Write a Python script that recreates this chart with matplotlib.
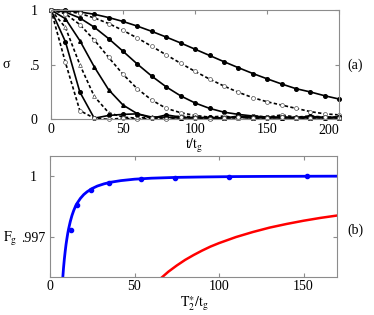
import matplotlib
matplotlib.use("Agg")
import matplotlib.pyplot as plt

plt.rcParams["font.family"] = ["Liberation Serif", "DejaVu Serif"]
plt.rcParams["mathtext.fontset"] = "stix"
plt.rcParams["font.size"] = 10

# panel (a): fidelity decay sigma vs t/t_g, sampled every 10 t_g
t = [0, 10, 20, 30, 40, 50, 60, 70, 80, 90, 100,
     110, 120, 130, 140, 150, 160, 170, 180, 190, 200]

sig_1 = [1, 0.52, 0.08, 0.01, 0.00, 0.01, 0.00, 0.01, 0.00, 0.02, 0.01,
         0.00, 0.01, 0.02, 0.01, 0.01, 0.02, 0.01, 0.01, 0.02, 0.01]
sig_2 = [1, 0.71, 0.25, 0.01, 0.035, 0.045, 0.05, 0.01, 0.04, 0.02, 0.01,
         0.02, 0.01, 0.03, 0.02, 0.01, 0.02, 0.01, 0.03, 0.01, 0.02]
sig_3 = [1, 0.84, 0.50, 0.21, 0.06, 0.02, 0.01, 0.02, 0.01, 0.03, 0.02,
         0.01, 0.02, 0.01, 0.03, 0.02, 0.02, 0.01, 0.02, 0.01, 0.02]
sig_4 = [1, 0.92, 0.72, 0.48, 0.27, 0.13, 0.05, 0.02, 0.02, 0.01, 0.02,
         0.01, 0.01, 0.02, 0.01, 0.02, 0.01, 0.02, 0.01, 0.02, 0.01]
sig_5 = [1, 0.965, 0.867, 0.726, 0.566, 0.411, 0.278, 0.175, 0.10, 0.06, 0.035,
         0.02, 0.03, 0.01, 0.03, 0.02, 0.04, 0.02, 0.03, 0.02, 0.02]
sig_6 = [1, 0.981, 0.927, 0.843, 0.738, 0.622, 0.504, 0.394, 0.296, 0.214, 0.149,
         0.10, 0.065, 0.045, 0.03, 0.02, 0.02, 0.015, 0.02, 0.015, 0.02]
sig_7 = [1, 0.992, 0.968, 0.928, 0.876, 0.813, 0.743, 0.667, 0.589, 0.512, 0.438,
         0.368, 0.304, 0.247, 0.198, 0.16, 0.13, 0.10, 0.07, 0.05, 0.04]
sig_8 = [1, 0.996, 0.982, 0.961, 0.931, 0.895, 0.852, 0.804, 0.752, 0.698, 0.641,
         0.584, 0.527, 0.472, 0.419, 0.37, 0.323, 0.28, 0.25, 0.215, 0.185]

# panel (b): gate fidelity vs T2*/t_g
t2_pts = [12.3, 16.2, 24.5, 34.8, 53.9, 73.7, 106, 152]
fg_pts = [0.99732, 0.99859, 0.99933, 0.99965, 0.99985, 0.99992, 0.99998, 1.0]

t2_blue = [7.5, 8.0, 8.5, 9.0, 9.5, 10.0, 10.5, 11, 12, 13, 14, 15, 16, 18,
           20, 22, 25, 28, 32, 36, 42, 50, 60, 75, 90, 110, 130, 150, 170]
fg_blue = [0.99490, 0.99545, 0.99590, 0.99628, 0.99662, 0.99690, 0.99716,
           0.99738, 0.99775, 0.99805, 0.99829, 0.99849, 0.99865, 0.99890,
           0.99909, 0.99923, 0.99939, 0.99951, 0.99962, 0.99970, 0.99978,
           0.99985, 0.99990, 0.99994, 0.99996, 0.99998, 0.99999, 0.999995, 1.0]

t2_red = [65.5, 70, 75, 80, 85, 90, 95, 100, 110, 120, 130, 140, 150, 160, 170]
fg_red = [0.99493, 0.99526, 0.99557, 0.99585, 0.99609, 0.99631, 0.99651,
          0.99668, 0.99698, 0.99723, 0.99745, 0.99763, 0.99779, 0.99793,
          0.99805]

W, H = 374, 315
fig = plt.figure(figsize=(W / 100, H / 100), dpi=100)
frame = "#8c8c8c"


def style(ax):
    for s in ax.spines.values():
        s.set_color(frame)
        s.set_linewidth(0.8)
    ax.tick_params(direction="in", length=3, color=frame, top=True, right=True,
                   labelsize=10)
    ax.tick_params(axis="y", pad=12)
    for lab in ax.get_yticklabels():
        lab.set_horizontalalignment("center")


ax_a = fig.add_axes([51 / W, 1 - 119.3 / H, 288.3 / W, 109.3 / H])
solid = dict(color="black", lw=1.2, ls="-", clip_on=False)
dotted = dict(color="black", lw=1.2, ls=(0, (2, 1.4)), clip_on=False)
filled = dict(ms=2.6, mfc="black", mec="black")
hollow = dict(ms=2.8, mfc="white", mec="#555555", mew=0.5)

curves = [
    (sig_8, solid, "o", filled),
    (sig_7, dotted, "o", hollow),
    (sig_6, solid, "o", filled),
    (sig_5, dotted, "o", hollow),
    (sig_4, solid, "^", filled),
    (sig_3, dotted, "^", hollow),
    (sig_2, solid, "o", filled),
    (sig_1, dotted, "o", hollow),
]
for sig, ls, mk, mstyle in curves:
    ax_a.plot(t, sig, marker=mk, **ls, **mstyle)

ax_a.set_xlim(0, 200)
ax_a.set_ylim(0, 1)
ax_a.set_xticks([0, 50, 100, 150, 200], ["0", "50", "100", "150", ""])
ax_a.set_yticks([0, 0.5, 1])
ax_a.set_yticklabels(["0", ".5", "1"])
style(ax_a)
ax_a.tick_params(axis="x", pad=3)
# last label sits flush with the right edge of the frame
ax_a.annotate("200", xy=(200, 0), xycoords=("data", "axes fraction"),
              xytext=(0, -3.5), textcoords="offset points",
              ha="right", va="top", fontsize=10)

ax_b = fig.add_axes([50 / W, 1 - 277 / H, 287.3 / W, 121 / H])
ax_b.plot(t2_blue, fg_blue, color="#0000ff", lw=2.0)
ax_b.plot(t2_red, fg_red, color="#ff0000", lw=1.8)
ax_b.plot(t2_pts, fg_pts, "o", color="#0000ff", ms=3.0)
ax_b.set_xlim(0, 170)
ax_b.set_ylim(0.995, 1.001)
ax_b.set_xticks([0, 50, 100, 150])
ax_b.set_yticks([0.997, 1.0])
ax_b.set_yticklabels([".997", "1"])
style(ax_b)
ax_b.tick_params(axis="x", pad=2)


def label(x, y, s, **kw):
    fig.text(x / W, 1 - y / H, s, fontsize=10, **kw)


label(6, 65, "σ", ha="center", va="center")
label(194, 149, r"$\mathrm{t/t_g}$", ha="center", va="baseline")
label(355, 65, "(a)", ha="center", va="center")
label(10, 242, r"$\mathrm{F_g}$", ha="center", va="baseline")
label(194, 306.5, r"$\mathrm{T_2^{\ast}/t_g}$", ha="center", va="baseline")
label(355, 230, "(b)", ha="center", va="center")

fig.savefig("out.png", dpi=100)
